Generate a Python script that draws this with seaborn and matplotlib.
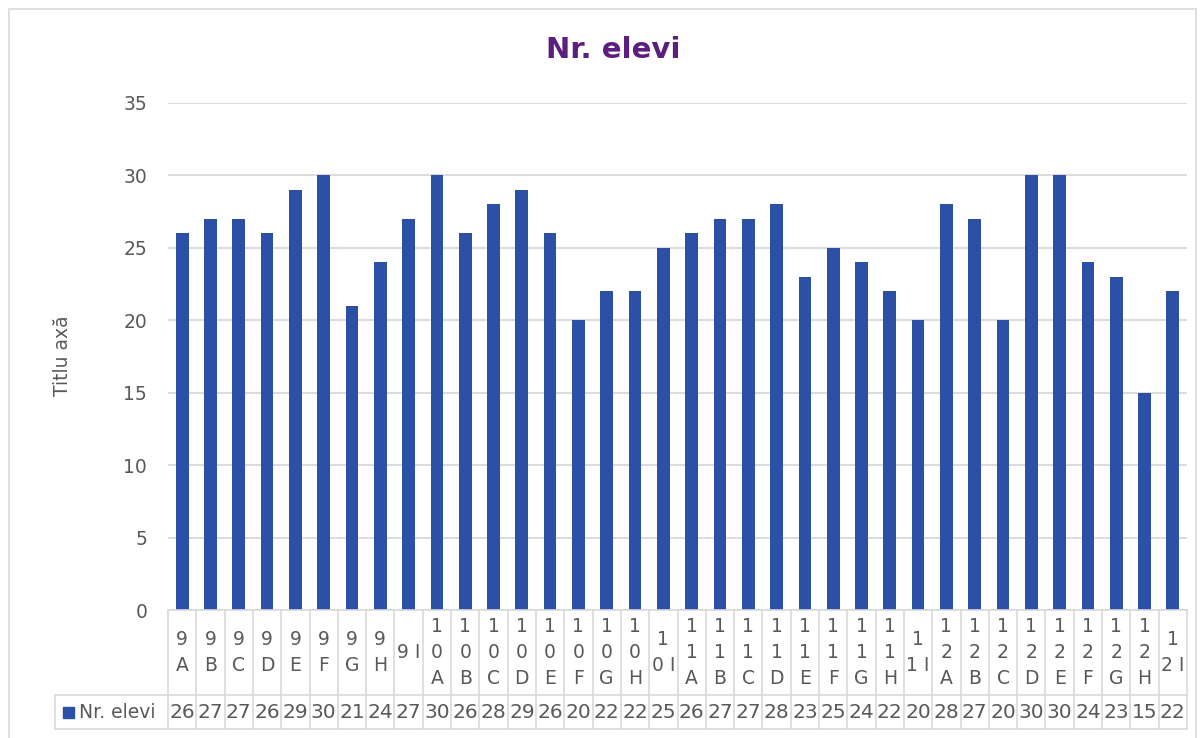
import matplotlib
matplotlib.use("Agg")
import matplotlib.pyplot as plt
import seaborn as sns
import pandas as pd
from matplotlib.transforms import blended_transform_factory
from matplotlib.patches import Rectangle
from matplotlib.lines import Line2D

# ---------------- data ----------------
categories = ["9A", "9B", "9C", "9D", "9E", "9F", "9G", "9H", "9I",
              "10A", "10B", "10C", "10D", "10E", "10F", "10G", "10H", "10I",
              "11A", "11B", "11C", "11D", "11E", "11F", "11G", "11H", "11I",
              "12A", "12B", "12C", "12D", "12E", "12F", "12G", "12H", "12I"]
cat_labels = ["9\nA", "9\nB", "9\nC", "9\nD", "9\nE", "9\nF", "9\nG", "9\nH", "9 I",
              "1\n0\nA", "1\n0\nB", "1\n0\nC", "1\n0\nD", "1\n0\nE", "1\n0\nF", "1\n0\nG", "1\n0\nH", "1\n0 I",
              "1\n1\nA", "1\n1\nB", "1\n1\nC", "1\n1\nD", "1\n1\nE", "1\n1\nF", "1\n1\nG", "1\n1\nH", "1\n1 I",
              "1\n2\nA", "1\n2\nB", "1\n2\nC", "1\n2\nD", "1\n2\nE", "1\n2\nF", "1\n2\nG", "1\n2\nH", "1\n2 I"]
values = [26, 27, 27, 26, 29, 30, 21, 24, 27,
          30, 26, 28, 29, 26, 20, 22, 22, 25,
          26, 27, 27, 28, 23, 25, 24, 22, 20,
          28, 27, 20, 30, 30, 24, 23, 15, 22]
series_name = "Nr. elevi"
title = "Nr. elevi"
y_title = "Titlu axă"
yticks = [0, 5, 10, 15, 20, 25, 30, 35]

# ---------------- style ----------------
sns.set_theme(style="white")
plt.rcParams['font.family'] = ['DejaVu Sans']

BAR = "#2B50A6"
GRID = "#D9D9D9"
TXT = "#595959"
TITLE_C = "#5B1F80"

W, H = 1204, 738
fig = plt.figure(figsize=(W / 100, H / 100), dpi=100)


def fx(px):
    return px / W


def fy(py):
    return 1 - py / H


L, R, T, B = 168, 1187, 103, 610
ax = fig.add_axes([fx(L), fy(B), fx(R) - fx(L), fy(T) - fy(B)])

df = pd.DataFrame({"cat": categories, "val": values})
sns.barplot(data=df, x="cat", y="val", color=BAR, width=0.45, saturation=1,
            linewidth=0, ax=ax)

ax.set_ylim(0, 35)
ax.set_xlim(-0.5, len(categories) - 0.5)
ax.set_yticks(yticks)
ax.yaxis.grid(True, color=GRID, lw=1.3)
ax.set_axisbelow(True)
for s in ax.spines.values():
    s.set_visible(False)
ax.tick_params(axis='y', length=0, pad=15, labelsize=13.5, labelcolor=TXT)
ax.set_xticks([])
ax.set_xlabel("")
ax.set_ylabel("")

# title and axis title
fig.text(fx(613), fy(50), title, ha="center", va="center", fontsize=21,
         fontweight="bold", color=TITLE_C)
fig.text(fx(62), fy(356), y_title, ha="center", va="center", rotation=90,
         fontsize=13.5, color=TXT)

# ---------------- data table ----------------
trans = blended_transform_factory(ax.transData, fig.transFigure)
row_top, row_mid, row_bot = 610, 695, 729
lw = 1.2
n = len(categories)

fig.add_artist(Line2D([fx(L), fx(R)], [fy(row_top), fy(row_top)], color=GRID, lw=lw))
fig.add_artist(Line2D([fx(55), fx(R)], [fy(row_mid), fy(row_mid)], color=GRID, lw=lw))
fig.add_artist(Line2D([fx(55), fx(R)], [fy(row_bot), fy(row_bot)], color=GRID, lw=lw))
fig.add_artist(Line2D([fx(55), fx(55)], [fy(row_mid), fy(row_bot)], color=GRID, lw=lw))
for i in range(n + 1):
    ax.add_artist(Line2D([i - 0.5, i - 0.5], [fy(row_top), fy(row_bot)], color=GRID,
                         lw=lw, transform=trans, clip_on=False))

for i, (lab, v) in enumerate(zip(cat_labels, values)):
    ax.text(i, fy((row_top + row_mid) / 2), lab, transform=trans, ha="center",
            va="center", multialignment="center", fontsize=13.5, color=TXT,
            linespacing=1.45, clip_on=False)
    ax.text(i, fy((row_mid + row_bot) / 2 + 1), str(v), transform=trans, ha="center",
            va="center", fontsize=14.5, color=TXT, clip_on=False)

# legend key in table
fig.add_artist(Rectangle((fx(63), fy(718)), fx(74) - fx(63), fy(707) - fy(718),
                         transform=fig.transFigure, color=BAR))
fig.text(fx(79), fy(713), series_name, ha="left", va="center", fontsize=13.5, color=TXT)

# outer chart border
fig.add_artist(Rectangle((fx(9), fy(745)), fx(1196) - fx(9), fy(9) - fy(745),
                         transform=fig.transFigure, fill=False, edgecolor=GRID, lw=1.2))

fig.savefig("out.png", dpi=100)
